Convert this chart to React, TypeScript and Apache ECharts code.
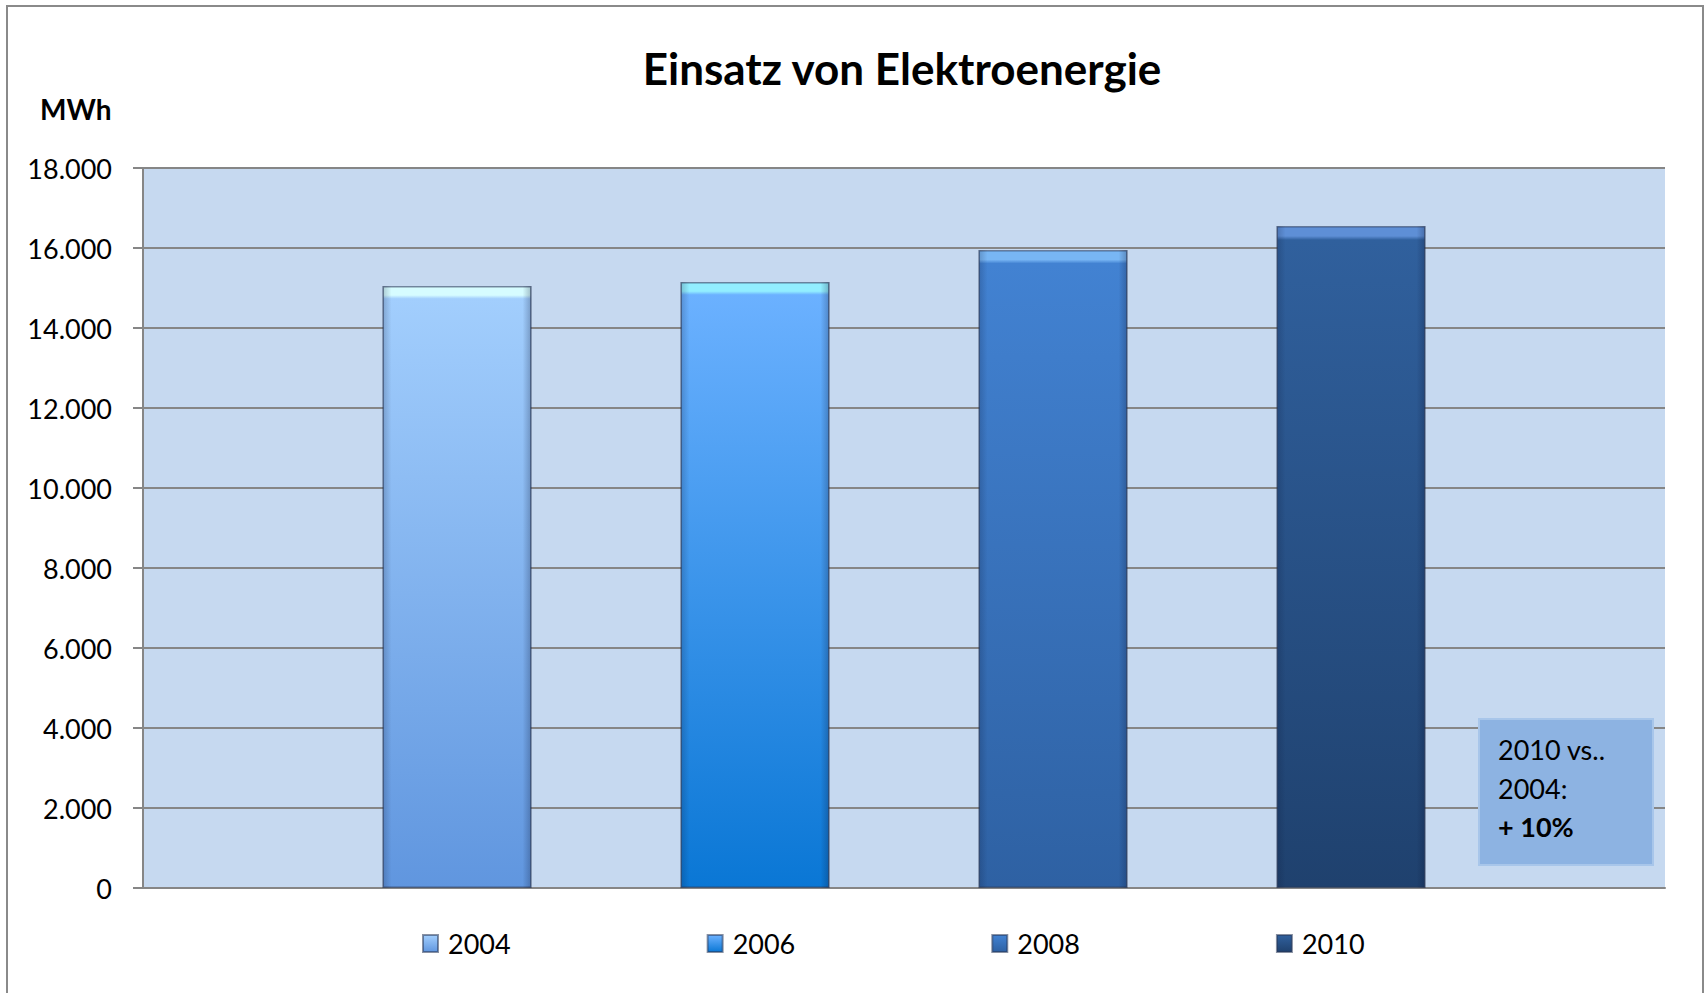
import React, { useEffect, useRef } from "react";
import * as echarts from "echarts";

const categories = [""];
const seriesNames = ["2004", "2006", "2008", "2010"];
const values2004 = [15050];
const values2006 = [15150];
const values2008 = [15950];
const values2010 = [16550];
const seriesValues = [values2004, values2006, values2008, values2010];
const yTicks = { min: 0, max: 18000, interval: 2000 };
const titleText = "Einsatz von Elektroenergie";
const unitText = "MWh";
const noteLines = ["2010 vs..", "2004:", "+ 10%"];

// [highlight, top, bottom]
const barColors = [
  ["#D6FCFF", "#A2CEFD", "#6096DF"],
  ["#92EEFF", "#6BB1FF", "#0A77D5"],
  ["#78B6F4", "#4282D2", "#2E61A3"],
  ["#5E8FD6", "#30609D", "#1F416E"],
];

const FONT = "Lato, 'Open Sans', sans-serif";

function fmt(v: number): string {
  return String(v).replace(/\B(?=(\d{3})+(?!\d))/g, ".");
}

export default function App() {
  const ref = useRef<HTMLDivElement>(null);
  useEffect(() => {
    if (!ref.current) return;
    const chart = echarts.init(ref.current, undefined, { renderer: "svg" });
    const mainSeries = seriesNames.map((name, i) => ({
      name,
      type: "bar",
      xAxisIndex: 0,
      barWidth: 149,
      barGap: "100%",
      data: seriesValues[i],
      itemStyle: {
        color: new echarts.graphic.LinearGradient(0, 0, 0, 1, [
          { offset: 0, color: barColors[i][0] },
          { offset: 0.014, color: barColors[i][0] },
          { offset: 0.02, color: barColors[i][1] },
          { offset: 1, color: barColors[i][2] },
        ]),
        borderColor: "rgba(40,55,85,0.55)",
        borderWidth: 1.5,
      },
      z: 2,
    }));
    const overlaySeries = seriesNames.map((name, i) => ({
      name: name + " bevel",
      type: "bar",
      xAxisIndex: 1,
      barWidth: 149,
      barGap: "100%",
      silent: true,
      data: seriesValues[i],
      itemStyle: {
        color: new echarts.graphic.LinearGradient(1, 0, 0, 0, [
          { offset: 0, color: "rgba(10,20,50,0.28)" },
          { offset: 0.06, color: "rgba(10,20,50,0)" },
          { offset: 0.94, color: "rgba(10,20,50,0)" },
          { offset: 1, color: "rgba(10,20,50,0.22)" },
        ]),
      },
      z: 3,
    }));
    chart.setOption({
      animation: false,
      backgroundColor: "#ffffff",
      textStyle: { fontFamily: FONT },
      title: {
        text: titleText,
        left: 897,
        top: 41,
        textAlign: "center",
        textStyle: { fontFamily: FONT, fontWeight: "bold", fontSize: 44, color: "#000" },
      },
      legend: {
        data: seriesNames,
        left: 417,
        top: 925,
        icon: "rect",
        itemWidth: 15,
        itemHeight: 17,
        itemGap: 196,
        textStyle: { fontFamily: FONT, fontSize: 27, color: "#000", padding: [0, 0, 0, 5] },
      },
      grid: {
        left: 143,
        right: 40,
        top: 168,
        bottom: 105,
        show: true,
        backgroundColor: "#C6D9F0",
        borderWidth: 0,
      },
      xAxis: [
        {
          type: "category",
          data: categories,
          axisLine: { show: true, lineStyle: { color: "#868686", width: 2 } },
          axisTick: { show: false },
          axisLabel: { show: false },
        },
        {
          type: "category",
          data: categories,
          show: false,
        },
      ],
      yAxis: {
        type: "value",
        min: yTicks.min,
        max: yTicks.max,
        interval: yTicks.interval,
        axisLine: { show: true, lineStyle: { color: "#868686", width: 2 } },
        axisTick: { show: true, length: 10, lineStyle: { color: "#868686", width: 2 } },
        splitLine: { show: true, lineStyle: { color: "#868686", width: 2 } },
        axisLabel: {
          margin: 31,
          fontFamily: FONT,
          fontSize: 27,
          color: "#000",
          formatter: (v: number) => fmt(v),
        },
      },
      series: [...mainSeries, ...overlaySeries],
      graphic: [
        {
          type: "rect",
          shape: { x: 7, y: 6, width: 1696, height: 1010 },
          style: { fill: "none", stroke: "#8a8a8a", lineWidth: 2 },
          silent: true,
          z: 0,
        },
        {
          type: "text",
          x: 40,
          y: 109,
          style: {
            text: unitText,
            fontFamily: FONT,
            fontWeight: "bold",
            fontSize: 28,
            fill: "#000",
            textVerticalAlign: "middle",
          },
          z: 10,
        },
        {
          type: "rect",
          shape: { x: 1479, y: 719, width: 174, height: 146 },
          style: { fill: "#8DB3E2", stroke: "#A8C6EA", lineWidth: 2 },
          z: 100,
        },
        {
          type: "text",
          x: 1498,
          y: 749,
          style: { text: noteLines[0], fontFamily: FONT, fontSize: 27, fill: "#000", textVerticalAlign: "middle" },
          z: 101,
        },
        {
          type: "text",
          x: 1498,
          y: 788,
          style: { text: noteLines[1], fontFamily: FONT, fontSize: 27, fill: "#000", textVerticalAlign: "middle" },
          z: 101,
        },
        {
          type: "text",
          x: 1498,
          y: 826,
          style: {
            text: noteLines[2],
            fontFamily: FONT,
            fontSize: 27,
            fontWeight: "bold",
            fill: "#000",
            textVerticalAlign: "middle",
          },
          z: 101,
        },
      ],
    });
    return () => chart.dispose();
  }, []);
  return (
    <div
      ref={ref}
      style={{ position: "fixed", left: 0, top: 0, width: 1705, height: 993 }}
    />
  );
}
